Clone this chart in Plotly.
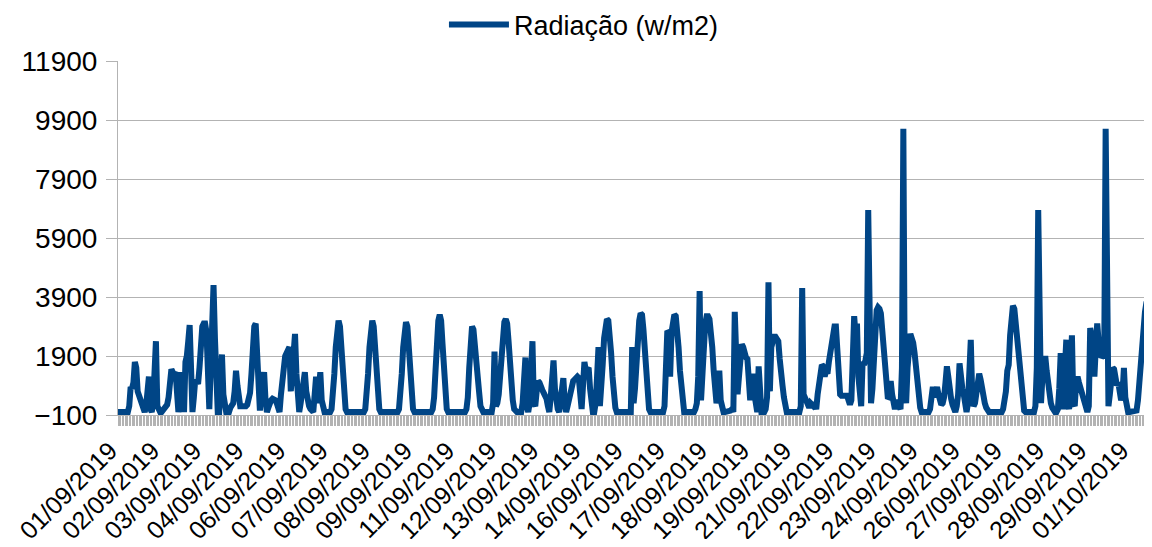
import plotly.graph_objects as go
import pandas as pd

# hourly radiation values, one list per day
sep01 = [0, 0, 0, 0, 0, 0, 0, 0, 200, 850, 800, 1000, 1700, 1500, 700, 550, 450, 300, 100, 0, 200, 900, 1200, 100]
sep02 = [0, 300, 1000, 2400, 200, 0, 0, 0, 80, 150, 200, 250, 500, 1100, 1450, 1350, 1300, 1350, 600, 0, 400, 1350, 600, 0]
sep03 = [1700, 1900, 2400, 2950, 1500, 0, 500, 1100, 1050, 950, 1500, 2400, 2900, 3000, 3000, 2700, 1500, 100, 1500, 3800, 4300, 2500, 400, 0]
sep04 = [0, 800, 1950, 600, 0, 0, 0, 0, 150, 300, 300, 700, 1400, 900, 300, 200, 200, 200, 150, 200, 250, 400, 650, 1300]
sep05 = [2200, 2900, 3000, 2000, 500, 50, 700, 1300, 1350, 400, 0, 150, 350, 400, 450, 450, 400, 300, 100, 0, 600, 1150, 1600, 1900]
sep06 = [2000, 2150, 2200, 700, 1500, 2400, 2650, 1300, 50, 0, 300, 800, 1300, 1350, 700, 300, 200, 100, 0, 0, 600, 1200, 300, 800]
sep07 = [1350, 400, 0, 0, 0, 0, 0, 0, 100, 500, 1300, 2200, 2900, 3100, 2900, 2200, 1300, 500, 100, 0, 0, 0, 0, 0]
sep08 = [0, 0, 0, 0, 0, 0, 0, 0, 100, 500, 1300, 2200, 2900, 3100, 2900, 2200, 1300, 500, 100, 0, 0, 0, 0, 0]
sep09 = [0, 0, 0, 0, 0, 0, 0, 0, 100, 500, 1300, 2200, 2900, 3050, 2900, 2200, 1300, 500, 100, 0, 0, 0, 0, 0]
sep10 = [0, 0, 0, 0, 0, 0, 0, 0, 100, 500, 1400, 2400, 3100, 3300, 3100, 2300, 1300, 500, 100, 0, 0, 0, 0, 0]
sep11 = [0, 0, 0, 0, 0, 0, 0, 0, 100, 500, 1500, 2500, 2900, 2800, 2100, 1800, 1300, 700, 200, 0, 0, 0, 0, 0]
sep12 = [0, 0, 0, 300, 2050, 200, 300, 600, 1300, 2100, 2700, 3050, 3150, 3000, 2400, 1600, 900, 400, 100, 0, 0, 0, 0, 0]
sep13 = [300, 1000, 1850, 200, 0, 300, 1500, 2400, 300, 200, 700, 1050, 1000, 800, 750, 650, 550, 450, 200, 0, 500, 1300, 1750, 800]
sep14 = [270, 100, 0, 300, 800, 1150, 300, 0, 200, 400, 700, 950, 1050, 1100, 1150, 1200, 1150, 400, 100, 900, 1700, 1400, 1450, 1500]
sep15 = [800, 300, 0, 0, 300, 1200, 2200, 200, 700, 1600, 2500, 2950, 3150, 3100, 2700, 2000, 1200, 500, 150, 0, 0, 0, 0, 0]
sep16 = [0, 0, 0, 0, 0, 0, 2200, 300, 800, 1700, 2500, 3100, 3350, 3300, 2800, 2000, 1100, 500, 100, 0, 0, 0, 0, 0]
sep17 = [0, 0, 0, 0, 0, 200, 1900, 2750, 2700, 1200, 2700, 3200, 3300, 3250, 2900, 2200, 1400, 700, 200, 0, 0, 0, 0, 0]
sep18 = [0, 0, 0, 100, 300, 1200, 4100, 400, 1500, 2400, 3000, 3250, 3250, 3150, 2800, 2200, 1400, 700, 300, 600, 1400, 400, 100, 0]
sep19 = [0, 0, 0, 0, 50, 100, 0, 3400, 1000, 600, 1200, 1900, 2300, 2200, 1950, 1850, 1800, 1300, 400, 800, 1300, 600, 100, 0]
sep20 = [1550, 400, 0, 0, 0, 100, 500, 4400, 700, 2200, 2450, 2550, 2550, 2450, 2400, 1800, 1100, 900, 500, 150, 0, 0, 0, 0]
sep21 = [0, 0, 0, 0, 0, 0, 200, 4200, 600, 500, 300, 270, 150, 300, 250, 200, 250, 100, 600, 1050, 1200, 1600, 1550, 1200]
sep22 = [1400, 1300, 1700, 1950, 2300, 2700, 2900, 2900, 1800, 900, 600, 550, 550, 550, 500, 550, 400, 250, 400, 1500, 3250, 2600, 3000, 1200]
sep23 = [300, 200, 1700, 1600, 1750, 2000, 6850, 600, 300, 800, 1800, 2900, 3450, 3550, 3500, 3350, 2800, 2000, 1200, 700, 450, 500, 1050, 600]
sep24 = [200, 100, 300, 400, 200, 100, 1500, 9600, 1000, 300, 1500, 2600, 2650, 2500, 2350, 2000, 1500, 900, 400, 150, 0, 0, 0, 0]
sep25 = [0, 0, 100, 850, 850, 500, 800, 850, 600, 350, 250, 300, 500, 1000, 1550, 1200, 700, 450, 250, 100, 0, 200, 600, 1650]
sep26 = [900, 800, 600, 200, 0, 300, 1200, 2450, 600, 200, 300, 700, 1100, 1300, 1100, 700, 500, 300, 150, 0, 0, 0, 0, 0]
sep27 = [0, 0, 0, 0, 0, 0, 100, 300, 700, 1400, 1600, 2600, 3300, 3600, 3500, 3000, 2400, 1800, 1300, 700, 300, 50, 0, 0]
sep28 = [0, 0, 0, 0, 0, 200, 1500, 6850, 500, 300, 1200, 1800, 1900, 1400, 850, 500, 300, 150, 50, 0, 0, 100, 800, 2000]
sep29 = [400, 100, 1500, 2450, 300, 100, 1500, 2600, 300, 200, 1000, 1200, 1000, 800, 700, 400, 300, 100, 0, 200, 2850, 2600, 1800, 1200]
sep30 = [2200, 3000, 2400, 2000, 1850, 1900, 2000, 9600, 300, 200, 600, 1100, 1500, 1450, 1100, 900, 1000, 700, 400, 600, 1500, 500, 100, 0]
oct01 = [0, 0, 0, 0, 0, 50, 400, 1100, 1800, 2400, 2900, 3400, 3700, 3750, 3600, 3100, 2300, 1400]

days = [sep01, sep02, sep03, sep04, sep05, sep06, sep07, sep08, sep09, sep10,
        sep11, sep12, sep13, sep14, sep15, sep16, sep17, sep18, sep19, sep20,
        sep21, sep22, sep23, sep24, sep25, sep26, sep27, sep28, sep29, sep30, oct01]
radiacao = [v for d in days for v in d]

# hourly category labels
stamps = pd.date_range("2019-09-01 00:00", periods=len(radiacao), freq="h")
categorias = [t.strftime("%d/%m/%Y %H:%M") for t in stamps]
# label every 30th category with its date, ticks on every category
rotulos = [t.strftime("%d/%m/%Y") if i % 30 == 0 else "" for i, t in enumerate(stamps)]

fig = go.Figure(go.Scatter(
    x=categorias, y=radiacao,
    mode="lines",
    name="Radiação (w/m2)",
    line=dict(color="#004586", width=6),
))

# page body has an 8px margin, so the figure is sized/offset to fit the window
fig.update_layout(
    width=1136, height=531,
    margin=dict(l=110, r=0, t=53, b=124, autoexpand=False),
    paper_bgcolor="white",
    plot_bgcolor="white",
    font=dict(family="Liberation Sans", size=27, color="black"),
    showlegend=True,
    legend=dict(
        orientation="h",
        xref="container", yref="container",
        x=0.507, xanchor="center",
        y=0.968, yanchor="middle",
        itemwidth=60,
        font=dict(size=27),
    ),
)

fig.update_xaxes(
    type="category",
    range=[0, 730.3],
    automargin=False,
    tickmode="array",
    tickvals=categorias,
    ticktext=rotulos,
    tickangle=-45,
    ticklabelshift=-8,
    ticks="outside", ticklen=10, tickcolor="#b3b3b3", tickwidth=1,
    showline=True, linecolor="#b3b3b3", linewidth=1,
    showgrid=False,
    tickfont=dict(size=25),
)

fig.update_yaxes(
    range=[-100, 11900],
    automargin=False,
    tick0=-100, dtick=2000,
    tickformat="d",
    ticks="outside", ticklen=11, tickcolor="#b3b3b3",
    ticklabelstandoff=3,
    showline=True, linecolor="#b3b3b3", linewidth=1,
    showgrid=True, gridcolor="#b3b3b3", gridwidth=1,
    zeroline=False,
    tickfont=dict(size=28),
)

fig.write_html("out.html")
